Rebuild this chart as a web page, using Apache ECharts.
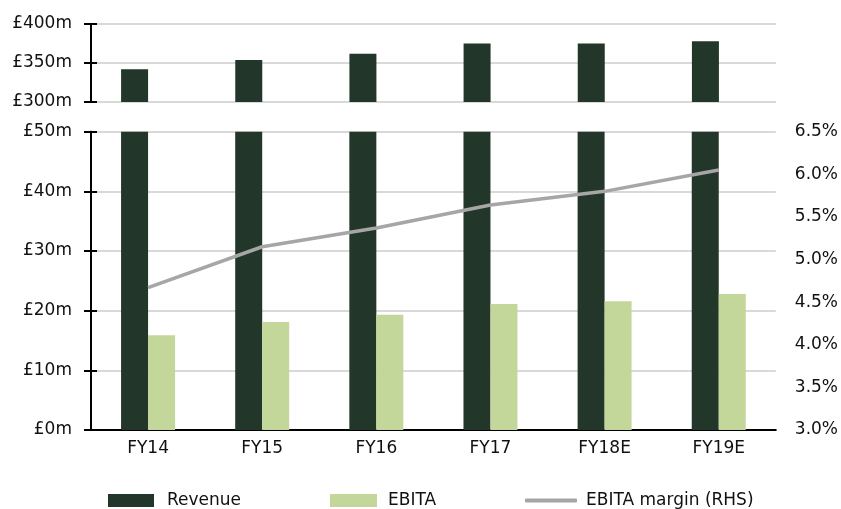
<!DOCTYPE html>
<html>
<head>
<meta charset="utf-8">
<script src="https://cdn.jsdelivr.net/npm/echarts@6/dist/echarts.min.js"></script>
<style>
  html, body { margin: 0; padding: 0; background: #ffffff; }
  #chart { width: 841px; height: 509px; }
</style>
</head>
<body>
<div id="chart"></div>
<script>
// Financial years
const categories = ['FY14', 'FY15', 'FY16', 'FY17', 'FY18E', 'FY19E'];
// Revenue, £m
const revenue = [342, 354, 362, 375, 375, 378];
// EBITA, £m
const ebita = [15.9, 18.1, 19.3, 21.1, 21.6, 22.8];
// EBITA margin, %
const ebitaMargin = [4.67, 5.15, 5.37, 5.64, 5.80, 6.05];

// Axis ranges (broken left axis: upper and lower panels)
const upperRange = { min: 300, max: 400, interval: 50 };
const lowerRange = { min: 0, max: 50, interval: 10 };
const marginRange = { min: 3.0, max: 6.5, interval: 0.5 };

const FONT = 'DejaVu Sans';
const TEXT = '#111111';
const DARK = '#23362a';
const LIGHT = '#c4d79b';
const GREY = '#a6a6a6';
const GRIDLINE = '#d9d9d9';

const chart = echarts.init(document.getElementById('chart'), null, { renderer: 'canvas' });

const moneyLabel = v => '£' + v + 'm';

function leftAxis(gridIndex, range, withLabels, tickInside) {
  return {
    type: 'value',
    gridIndex: gridIndex,
    position: 'left',
    min: range.min,
    max: range.max,
    interval: range.interval,
    axisLine: { show: true, lineStyle: { color: '#000', width: 2 } },
    axisTick: { show: true, inside: tickInside, length: tickInside ? 6 : 7, lineStyle: { color: '#000', width: 2 } },
    axisLabel: {
      show: withLabels,
      formatter: moneyLabel,
      margin: 19,
      fontFamily: FONT,
      fontSize: 17,
      color: TEXT
    },
    splitLine: { show: withLabels, lineStyle: { color: GRIDLINE, width: 2 } }
  };
}

const legendText = pad => ({ fontFamily: FONT, fontSize: 17, color: TEXT, padding: [0, 0, 0, pad] });

const option = {
  backgroundColor: '#ffffff',
  animation: false,
  grid: [
    { left: 91, width: 685, top: 24, height: 78 },
    { left: 91, width: 685, top: 131.7, height: 298.3 }
  ],
  xAxis: [
    {
      type: 'category', gridIndex: 0, data: categories,
      axisLine: { show: false }, axisTick: { show: false }, axisLabel: { show: false }
    },
    {
      type: 'category', gridIndex: 1, data: categories,
      axisLine: { show: true, onZero: false, lineStyle: { color: '#000', width: 2 } },
      axisTick: { show: false },
      axisLabel: { margin: 10, fontFamily: FONT, fontSize: 17, color: TEXT }
    }
  ],
  yAxis: [
    leftAxis(0, upperRange, true, false),
    leftAxis(1, lowerRange, true, false),
    {
      type: 'value', gridIndex: 1, position: 'right',
      min: marginRange.min, max: marginRange.max, interval: marginRange.interval,
      axisLine: { show: false }, axisTick: { show: false },
      splitLine: { show: false },
      axisLabel: {
        margin: 19,
        formatter: v => v.toFixed(1) + '%',
        fontFamily: FONT, fontSize: 17, color: TEXT
      }
    },
    leftAxis(0, upperRange, false, true),
    leftAxis(1, lowerRange, false, true)
  ],
  legend: [
    {
      data: ['Revenue'], left: 108, top: 492, padding: 0,
      itemWidth: 46, itemHeight: 13, icon: 'rect',
      textStyle: legendText(8)
    },
    {
      data: ['EBITA'], left: 330, top: 492, padding: 0,
      itemWidth: 47, itemHeight: 13, icon: 'rect',
      textStyle: legendText(6)
    },
    {
      data: ['EBITA margin (RHS)'], left: 525, top: 492, padding: 0,
      itemWidth: 52, itemHeight: 4, icon: 'roundRect',
      textStyle: legendText(4)
    }
  ],
  series: [
    // Upper panel: revenue bars (EBITA sits below this panel's range)
    {
      name: 'Revenue', type: 'bar', xAxisIndex: 0, yAxisIndex: 0,
      data: revenue, barWidth: 27, barGap: 0, clip: true,
      itemStyle: { color: DARK }
    },
    {
      name: 'EBITA', type: 'bar', xAxisIndex: 0, yAxisIndex: 0,
      data: ebita, barWidth: 27, barGap: 0, clip: true,
      itemStyle: { color: LIGHT }
    },
    // Lower panel: revenue (clipped at top), EBITA
    {
      name: 'Revenue', type: 'bar', xAxisIndex: 1, yAxisIndex: 1,
      data: revenue, barWidth: 27, barGap: 0, clip: true,
      itemStyle: { color: DARK }
    },
    {
      name: 'EBITA', type: 'bar', xAxisIndex: 1, yAxisIndex: 1,
      data: ebita, barWidth: 27, barGap: 0, clip: true,
      itemStyle: { color: LIGHT }
    },
    // EBITA margin on right-hand scale
    {
      name: 'EBITA margin (RHS)', type: 'line', xAxisIndex: 1, yAxisIndex: 2,
      data: ebitaMargin, showSymbol: false, symbol: 'none',
      lineStyle: { color: GREY, width: 3.5 },
      itemStyle: { color: GREY },
      z: 5
    }
  ]
};

chart.setOption(option);
</script>
</body>
</html>
